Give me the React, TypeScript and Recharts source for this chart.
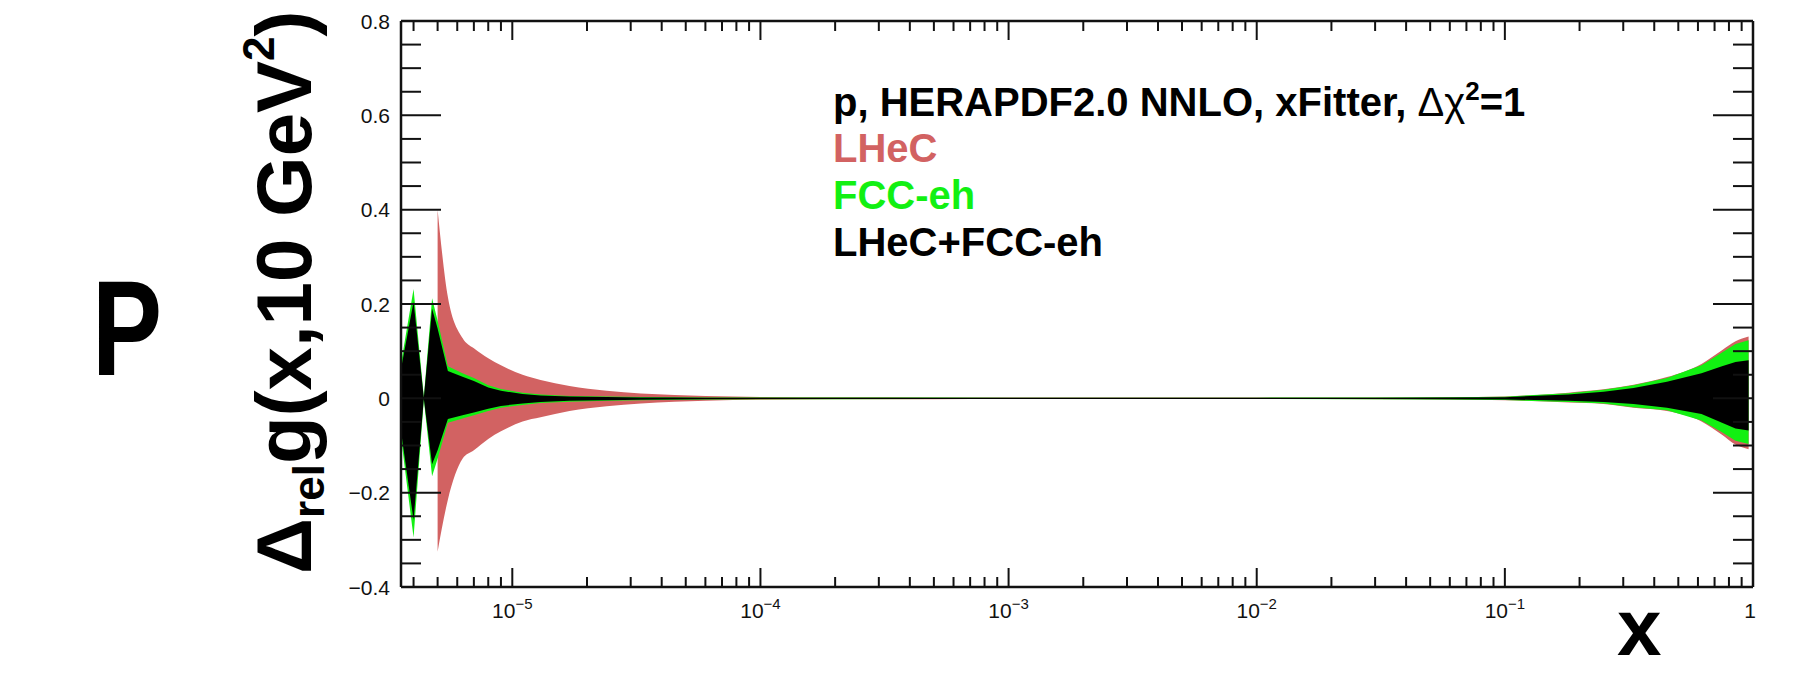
import { ComposedChart, Area, XAxis, YAxis } from 'recharts'

const FONT = '"Liberation Sans", Arial, Helvetica, sans-serif'
const W = 1793
const H = 692

// x grid (log axis) shared by the three bands
const X_VALUES = [
    3.56e-6, 4.0e-6, 4.4e-6, 4.75e-6, 5.0e-6, 5.5e-6, 6.3e-6, 7e-6, 8e-6, 9e-6,
    1.1e-5, 1.3e-5, 1.7e-5, 2.4e-5, 3.3e-5, 4.5e-5, 6e-5, 1e-4, 2e-4, 5e-4,
    1e-3, 1e-2, 3e-2, 6e-2, 0.1, 0.18, 0.25, 0.33, 0.45, 0.62, 0.75, 0.85, 0.96
]

// LHeC (red) band, starts at x = 5e-6
const LHEC_HI = [
    null, null, null, null, 0.4, 0.215, 0.128, 0.106, 0.085, 0.07,
    0.05, 0.039, 0.026, 0.016, 0.01, 0.007, 0.005, 0.003, 0.0022, 0.0018,
    0.0016, 0.0016, 0.0018, 0.0025, 0.004, 0.012, 0.019, 0.029, 0.045, 0.073, 0.102, 0.121, 0.131
]
const LHEC_LO = [
    null, null, null, null, -0.325, -0.215, -0.128, -0.11, -0.086, -0.07,
    -0.049, -0.04, -0.027, -0.017, -0.011, -0.007, -0.005, -0.003, -0.0022, -0.0018,
    -0.0016, -0.0016, -0.0018, -0.0025, -0.004, -0.009, -0.012, -0.02, -0.027, -0.049, -0.077, -0.098, -0.108
]

// FCC-eh (green) band
const FCC_HI = [
    0.074, 0.232, 0.003, 0.212, 0.165, 0.068, 0.053, 0.043, 0.028, 0.02,
    0.012, 0.008, 0.005, 0.004, 0.003, 0.0025, 0.002, 0.002, 0.0018, 0.0016,
    0.0015, 0.0015, 0.0017, 0.0024, 0.0035, 0.011, 0.018, 0.028, 0.043, 0.07, 0.097, 0.115, 0.123
]
const FCC_LO = [
    -0.083, -0.295, -0.003, -0.165, -0.128, -0.052, -0.043, -0.036, -0.027, -0.02,
    -0.014, -0.01, -0.007, -0.005, -0.004, -0.003, -0.0025, -0.002, -0.0018, -0.0016,
    -0.0015, -0.0015, -0.0017, -0.0024, -0.0035, -0.008, -0.011, -0.019, -0.025, -0.047, -0.072, -0.09, -0.097
]

// LHeC+FCC-eh (black) band
const BOTH_HI = [
    0.062, 0.205, 0.001, 0.19, 0.148, 0.058, 0.046, 0.037, 0.023, 0.016,
    0.009, 0.006, 0.004, 0.003, 0.002, 0.002, 0.0015, 0.0015, 0.0014, 0.0013,
    0.0012, 0.0012, 0.0013, 0.0018, 0.0025, 0.008, 0.014, 0.022, 0.035, 0.053, 0.068, 0.077, 0.081
]
const BOTH_LO = [
    -0.07, -0.258, -0.001, -0.14, -0.11, -0.044, -0.036, -0.03, -0.022, -0.016,
    -0.011, -0.008, -0.005, -0.004, -0.003, -0.0025, -0.002, -0.0015, -0.0014, -0.0013,
    -0.0012, -0.0012, -0.0013, -0.0018, -0.0025, -0.005, -0.008, -0.012, -0.02, -0.033, -0.052, -0.064, -0.068
]

const X_MIN = 3.56e-6
const X_MAX = 1
const X_MAJOR = [1e-5, 1e-4, 1e-3, 1e-2, 1e-1, 1]
const X_MAJOR_EXP = ['−5', '−4', '−3', '−2', '−1', '']
const MANTISSAS = [2, 3, 4, 5, 6, 7, 8, 9]
const DECADES = [1e-6, 1e-5, 1e-4, 1e-3, 1e-2, 1e-1]

const Y_MAJOR = [-0.4, -0.2, 0, 0.2, 0.4, 0.6, 0.8]
const Y_LABELS = ['−0.4', '−0.2', '0', '0.2', '0.4', '0.6', '0.8']

const RED = '#d26262'
const GREEN = '#12f012'
const AXIS = '#111'

const xTicks: number[] = [...X_MAJOR]
DECADES.forEach(d => MANTISSAS.forEach(m => {
    const v = m * d
    if (v >= X_MIN && v < X_MAX) xTicks.push(v)
}))
xTicks.sort((a, b) => a - b)

const yTicks: number[] = []
for (let i = 0; i <= 24; i++) yTicks.push(Math.round((-0.4 + i * 0.05) * 1000) / 1000)

const rows = X_VALUES.map((x, i) => ({
    x,
    lhec: LHEC_HI[i] == null ? null : [LHEC_LO[i], LHEC_HI[i]],
    fcc: [FCC_LO[i], FCC_HI[i]],
    both: [BOTH_LO[i], BOTH_HI[i]]
}))

const majorIndex = (v: number) => X_MAJOR.findIndex(m => Math.abs(m - v) / m < 1e-6)
const isYMajor = (v: number) => Math.abs(v * 5 - Math.round(v * 5)) < 1e-6

function BottomTick(props: any) {
    const { x, y, payload } = props
    const idx = majorIndex(payload.value)
    const major = idx >= 0
    return (
        <g>
            <line x1={x} x2={x} y1={y} y2={y - (major ? 19 : 10)} stroke={AXIS} strokeWidth={2} />
            {major && (X_MAJOR_EXP[idx] ? (
                <text x={x} y={y + 31} textAnchor="middle" fontSize={21} fill={AXIS} fontFamily={FONT}>
                    10<tspan dy={-9} fontSize={15}>{X_MAJOR_EXP[idx]}</tspan>
                </text>
            ) : (
                <text x={x - 3} y={y + 31} textAnchor="middle" fontSize={21} fill={AXIS} fontFamily={FONT}>1</text>
            ))}
        </g>
    )
}

function TopTick(props: any) {
    const { x, y, payload } = props
    const major = majorIndex(payload.value) >= 0
    return <line x1={x} x2={x} y1={y} y2={y + (major ? 19 : 10)} stroke={AXIS} strokeWidth={2} />
}

function LeftTick(props: any) {
    const { x, y, payload } = props
    const major = isYMajor(payload.value)
    const idx = Y_MAJOR.findIndex(m => Math.abs(m - payload.value) < 1e-6)
    return (
        <g>
            <line x1={x} x2={x + (major ? 40 : 20)} y1={y} y2={y} stroke={AXIS} strokeWidth={2} />
            {idx >= 0 && (
                <text x={x - 11} y={y} dy="0.36em" textAnchor="end" fontSize={21} fill={AXIS} fontFamily={FONT}>
                    {Y_LABELS[idx]}
                </text>
            )}
        </g>
    )
}

function RightTick(props: any) {
    const { x, y, payload } = props
    const major = isYMajor(payload.value)
    return <line x1={x} x2={x - (major ? 40 : 20)} y1={y} y2={y} stroke={AXIS} strokeWidth={2} />
}

export default function App() {
    const axisLine = { stroke: AXIS, strokeWidth: 2.5 }
    return (
        <div style={{ position: 'absolute', left: 0, top: 0, width: W, height: H, background: '#fff' }}>
            <ComposedChart width={W} height={H} data={rows} margin={{ top: 20, right: 20, bottom: 85, left: 301 }}>
                <XAxis xAxisId="b" dataKey="x" type="number" scale="log" domain={[X_MIN, X_MAX]} allowDataOverflow
                    ticks={xTicks} interval={0} tickLine={false} tickSize={0} tickMargin={0} height={20}
                    axisLine={axisLine} tick={BottomTick} />
                <XAxis xAxisId="t" orientation="top" dataKey="x" type="number" scale="log" domain={[X_MIN, X_MAX]} allowDataOverflow
                    ticks={xTicks} interval={0} tickLine={false} tickSize={0} tickMargin={0} height={1}
                    axisLine={axisLine} tick={TopTick} />
                <YAxis yAxisId="l" type="number" domain={[-0.4, 0.8]} allowDataOverflow ticks={yTicks} interval={0}
                    tickLine={false} tickSize={0} tickMargin={0} width={100} axisLine={axisLine} tick={LeftTick} />
                <YAxis yAxisId="r" orientation="right" type="number" domain={[-0.4, 0.8]} allowDataOverflow ticks={yTicks}
                    interval={0} tickLine={false} tickSize={0} tickMargin={0} width={20} axisLine={axisLine} tick={RightTick} />
                {/* red band decays smoothly, the spikes of the others stay straight */}
                <Area xAxisId="b" yAxisId="l" type="monotoneX" dataKey="lhec" stroke="none" fill={RED} fillOpacity={1}
                    dot={false} activeDot={false} isAnimationActive={false} />
                <Area xAxisId="b" yAxisId="l" type="linear" dataKey="fcc" stroke="none" fill={GREEN} fillOpacity={1}
                    dot={false} activeDot={false} isAnimationActive={false} />
                <Area xAxisId="b" yAxisId="l" type="linear" dataKey="both" stroke="none" fill="#000" fillOpacity={1}
                    dot={false} activeDot={false} isAnimationActive={false} />
            </ComposedChart>
            <svg width={W} height={H} style={{ position: 'absolute', left: 0, top: 0, pointerEvents: 'none' }} fontFamily={FONT}>
                <text x={92} y={375} fontSize={135} fontWeight="bold" textLength={70} lengthAdjust="spacingAndGlyphs">P</text>
                <text transform="translate(311,574) rotate(-90)" fontSize={78} fontWeight="bold">
                    Δ<tspan fontSize={44} dy={13}>rel</tspan><tspan dy={-13}>g(x,10 GeV</tspan>
                    <tspan fontSize={44} dy={-37}>2</tspan><tspan dy={37}>)</tspan>
                </text>
                <text x={833} y={116} fontSize={40} fontWeight="bold">
                    p, HERAPDF2.0 NNLO, xFitter, <tspan fontWeight="normal">Δχ</tspan>
                    <tspan dy={-16} fontSize={26}>2</tspan><tspan dy={16}>=1</tspan>
                </text>
                <text x={833} y={162} fontSize={40} fontWeight="bold" fill={RED}>LHeC</text>
                <text x={833} y={209} fontSize={40} fontWeight="bold" fill={GREEN}>FCC-eh</text>
                <text x={833} y={256} fontSize={40} fontWeight="bold">LHeC+FCC-eh</text>
                <text x={1617} y={655} fontSize={80} fontWeight="bold">x</text>
            </svg>
        </div>
    )
}
